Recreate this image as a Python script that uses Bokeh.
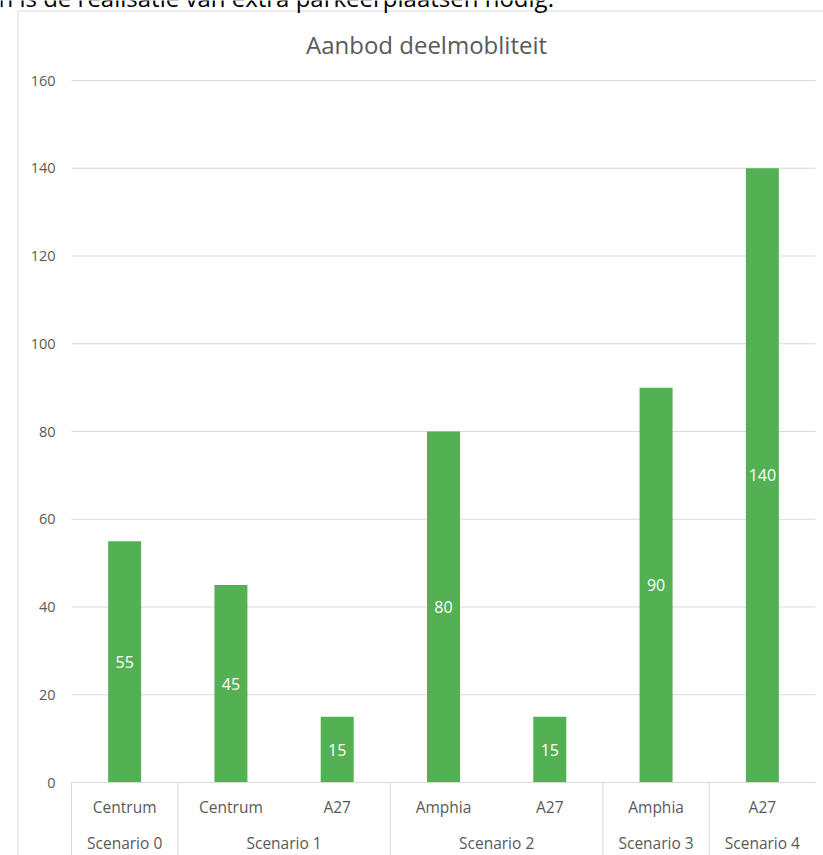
from bokeh.plotting import figure
from bokeh.models import ColumnDataSource, Range1d
from bokeh.core.properties import value
from bokeh.embed import file_html
from bokeh.resources import INLINE

# ---- data ----
scenarios = ["Scenario 0", "Scenario 1", "Scenario 2", "Scenario 3", "Scenario 4"]
locations = ["Centrum", "Centrum", "A27", "Amphia", "A27", "Amphia", "A27"]
location_scenario = [0, 1, 1, 2, 2, 3, 4]
values = [55, 45, 15, 80, 15, 90, 140]
y_ticks = [0, 20, 40, 60, 80, 100, 120, 140, 160]
title_text = "Aanbod deelmobliteit"
above_text = "n is de realisatie van extra parkeerplaatsen nodig."

FONT = "Open Sans"
GREEN = "#53b153"
GRID = "#d9d9d9"
LABEL = "#595959"

# layout in pixel terms (canvas 823 x 855)
W, H = 823, 855
PX0, PXW = 71.0, 744.0 / len(values)      # plot area left, slot width
PY0, PYU = 782.0, (782.0 - 80.0) / 160.0  # y=0 pixel, pixels per unit

def dx(px):
    return (px - PX0) / PXW

def dy(py):
    return (PY0 - py) / PYU

p = figure(width=W, height=H, output_backend="svg", toolbar_location=None,
           x_range=Range1d(dx(0), dx(W)), y_range=Range1d(dy(H), dy(0)),
           min_border=0, min_border_left=0, min_border_right=0,
           min_border_top=0, min_border_bottom=0)
p.axis.visible = False
p.grid.visible = False
p.outline_line_color = None
p.background_fill_color = "white"
p.border_fill_color = "white"

n = len(values)
xs = [i + 0.5 for i in range(n)]

# chart border
p.segment(x0=[dx(17.5)], y0=[dy(10.5)], x1=[dx(W + 5)], y1=[dy(10.5)],
          line_color="#d9d9d9", line_width=1)
p.segment(x0=[dx(17.5)], y0=[dy(10.5)], x1=[dx(17.5)], y1=[dy(H + 5)],
          line_color="#d9d9d9", line_width=1)

# gridlines
gy = [t for t in y_ticks if t > 0]
p.segment(x0=[0] * len(gy), y0=gy, x1=[n] * len(gy), y1=gy,
          line_color=GRID, line_width=1)

# bars
src = ColumnDataSource(dict(x=xs, top=values, mid=[v / 2 for v in values],
                            lab=[str(v) for v in values]))
p.vbar(x="x", top="top", bottom=0, width=33.0 / PXW, source=src,
       fill_color=GREEN, line_color=None)
p.text(x="x", y="mid", text="lab", source=src, text_color="white",
       text_font=value(FONT), text_font_size="16px",
       text_align="center", text_baseline="middle")

# category axis line and separators
p.segment(x0=[0], y0=[0], x1=[n], y1=[0], line_color=GRID, line_width=1)
bounds = [0]
for i in range(1, n):
    if location_scenario[i] != location_scenario[i - 1]:
        bounds.append(i)
p.segment(x0=bounds, y0=[0] * len(bounds), x1=bounds, y1=[dy(H + 5)] * len(bounds),
          line_color=GRID, line_width=1)

# level 1 labels
p.text(x=xs, y=[dy(806)] * n, text=locations, text_color=LABEL,
       text_font=value(FONT), text_font_size="15.5px",
       text_align="center", text_baseline="middle")

# level 2 labels (centered on group)
gx = []
for s in range(len(scenarios)):
    idx = [i for i in range(n) if location_scenario[i] == s]
    gx.append((min(idx) + max(idx) + 1) / 2)
p.text(x=gx, y=[dy(842)] * len(scenarios), text=scenarios, text_color=LABEL,
       text_font=value(FONT), text_font_size="15.5px",
       text_align="center", text_baseline="middle")

# y tick labels
p.text(x=[dx(55)] * len(y_ticks), y=y_ticks, text=[str(t) for t in y_ticks],
       text_color=LABEL, text_font=value(FONT), text_font_size="14.5px",
       text_align="right", text_baseline="middle")

# title
p.text(x=[dx(426)], y=[dy(44)], text=[title_text], text_color=LABEL,
       text_font=value(FONT), text_font_size="24px",
       text_align="center", text_baseline="middle")

# cut-off text above the chart (as in the source page)
p.text(x=[dx(-2)], y=[dy(13)], text=[above_text], text_color="black",
       text_font=value(FONT), text_font_size="24px",
       text_align="left", text_baseline="bottom")

open("out.html", "w").write(file_html(p, INLINE))
